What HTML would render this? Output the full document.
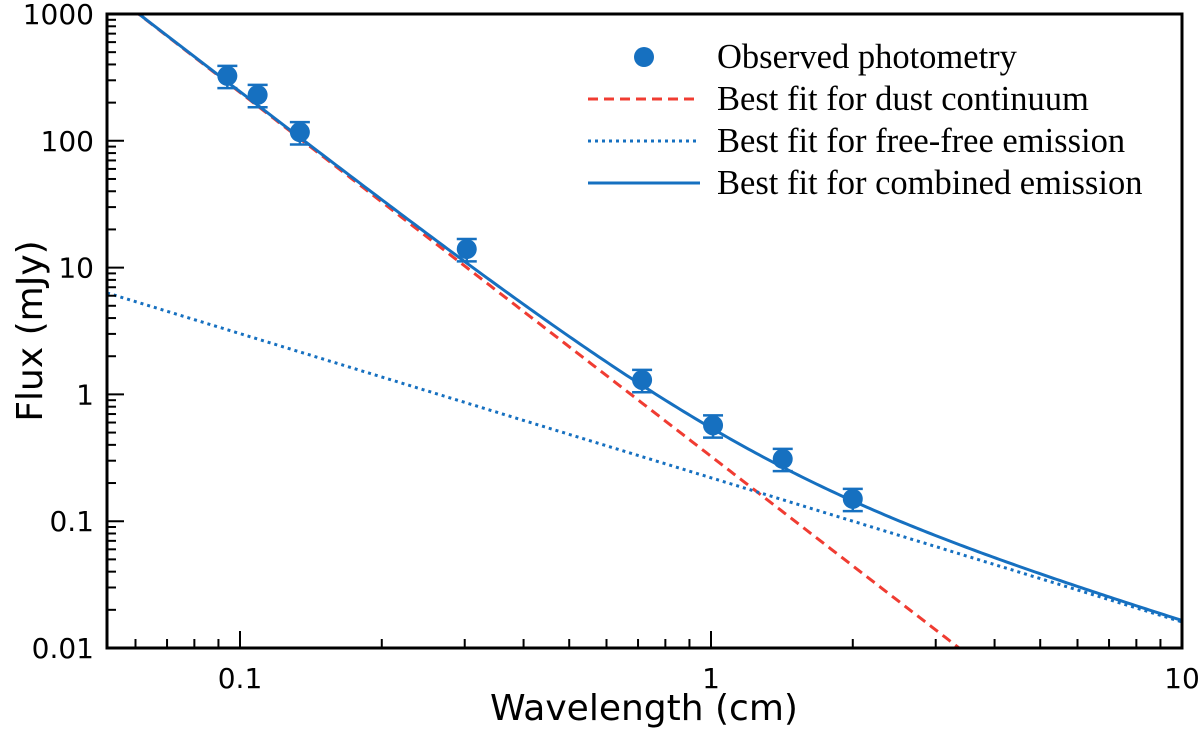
<!DOCTYPE html>
<html><head><meta charset="utf-8"><style>
html,body{margin:0;padding:0;background:#fff;width:1200px;height:736px;overflow:hidden;}
svg{display:block;}
</style></head><body>
<svg id="chart" width="1200" height="736" xmlns="http://www.w3.org/2000/svg"></svg>
<script>
const wavelengths = [0.094, 0.109, 0.134, 0.303, 0.714, 1.01, 1.42, 2.0];
const fluxes = [325, 230, 117, 14, 1.3, 0.57, 0.31, 0.15];
const fluxErrFrac = [0.2, 0.2, 0.2, 0.2, 0.2, 0.2, 0.2, 0.2];
const dustParams = [0.325, -2.87];   // flux at 1 cm, power-law index
const freeParams = [0.22, -1.137];   // flux at 1 cm, power-law index
const xTicks = [0.1, 1, 10];
const xTickLabels = ['0.1', '1', '10'];
const yTicks = [0.01, 0.1, 1, 10, 100, 1000];
const yTickLabels = ['0.01', '0.1', '1', '10', '100', '1000'];

const NS = 'http://www.w3.org/2000/svg';
const svg = document.getElementById('chart');
const L = 107, R = 1182, T = 14, B = 648;
const lxmin = -1 - 133/471, lxmax = 1;
const lymin = -2, lymax = 3;
const X = v => L + (Math.log10(v) - lxmin) / (lxmax - lxmin) * (R - L);
const Y = v => B - (Math.log10(v) - lymin) / (lymax - lymin) * (B - T);
function mk(tag, attrs, parent) {
  const e = document.createElementNS(NS, tag);
  for (const k in attrs) e.setAttribute(k, attrs[k]);
  (parent || svg).appendChild(e);
  return e;
}
const clip = mk('clipPath', {id: 'pc'});
mk('rect', {x: L, y: T, width: R - L, height: B - T}, clip);
const plot = mk('g', {'clip-path': 'url(#pc)'});



function curvePath(fn) {
  let d = '';
  for (let i = 0; i <= 300; i++) {
    const lv = lxmin + (lxmax - lxmin) * i / 300;
    const v = Math.pow(10, lv);
    d += (i ? 'L' : 'M') + X(v).toFixed(2) + ',' + Y(fn(v)).toFixed(2);
  }
  return d;
}
const dust = v => dustParams[0] * Math.pow(v, dustParams[1]);
const free = v => freeParams[0] * Math.pow(v, freeParams[1]);
const c1 = mk('path', {d: curvePath(dust), fill: 'none', stroke: '#f03c32', 'stroke-width': 3, 'stroke-dasharray': '10,6'}, plot);


const c2 = mk('path', {d: curvePath(free), fill: 'none', stroke: '#1670c0', 'stroke-width': 3, 'stroke-dasharray': '3,4'}, plot);


const c3 = mk('path', {d: curvePath(v => dust(v) + free(v)), fill: 'none', stroke: '#1670c0', 'stroke-width': 3}, plot);



wavelengths.forEach((w, i) => {
  const x = X(w), f = fluxes[i];
  const y1 = Y(f * (1 + fluxErrFrac[i])), y2 = Y(f * (1 - fluxErrFrac[i]));
  const g = mk('g', {stroke: '#1670c0', 'stroke-width': 2.5}, plot);
  
  
  mk('line', {x1: x, x2: x, y1: y1, y2: y2}, g);
  mk('line', {x1: x - 10, x2: x + 10, y1: y1, y2: y1}, g);
  mk('line', {x1: x - 10, x2: x + 10, y1: y2, y2: y2}, g);
  mk('circle', {cx: x, cy: Y(f), r: 10, fill: '#1670c0', stroke: 'none'}, g);
});

const fr = mk('rect', {x: L, y: T, width: R - L, height: B - T, fill: 'none', stroke: '#000', 'stroke-width': 3});



const tg = mk('g', {stroke: '#000', 'stroke-width': 2});


for (let d = -2; d <= 1; d++) {
  for (let m = 1; m <= 9; m++) {
    const v = m * Math.pow(10, d);
    const lv = Math.log10(v);
    if (lv < lxmin - 1e-9 || lv > lxmax + 1e-9) continue;
    const len = m === 1 ? 17 : 9;
    mk('line', {x1: X(v), x2: X(v), y1: B, y2: B - len}, tg);
  }
}
for (let d = -2; d <= 3; d++) {
  for (let m = 1; m <= 9; m++) {
    const v = m * Math.pow(10, d);
    const lv = Math.log10(v);
    if (lv < lymin - 1e-9 || lv > lymax + 1e-9) continue;
    const len = m === 1 ? 17 : 9;
    mk('line', {x1: L, x2: L + len, y1: Y(v), y2: Y(v)}, tg);
  }
}
const font = '"DejaVu Sans", "Liberation Sans", sans-serif';
xTicks.forEach((v, i) => {
  const t = mk('text', {x: X(v), y: B + 40, 'text-anchor': 'middle', 'font-family': font, 'font-size': 28});
  t.textContent = xTickLabels[i];
  
  
});
yTicks.forEach((v, i) => {
  const t = mk('text', {x: L - 13, y: Y(v) + 10, 'text-anchor': 'end', 'font-family': font, 'font-size': 28});
  t.textContent = yTickLabels[i];
  
  
});
const xt = mk('text', {x: 644, y: 720, 'text-anchor': 'middle', 'font-family': font, 'font-size': 36});
xt.textContent = 'Wavelength (cm)';


const yt = mk('text', {x: 0, y: 0, 'text-anchor': 'middle', 'font-family': font, 'font-size': 36, transform: 'translate(42,' + (T + B) / 2 + ') rotate(-90)'});
yt.textContent = 'Flux (mJy)';



const lg = mk('g', {});


const items = ['Observed photometry', 'Best fit for dust continuum', 'Best fit for free-free emission', 'Best fit for combined emission'];
const rows = [57, 99, 141, 183];
items.forEach((txt, i) => {
  const y = rows[i];
  const e = mk('g', {}, lg);
  
  
  if (i === 0) mk('circle', {cx: 644, cy: y, r: 10, fill: '#1670c0'}, e);
  else {
    const a = {x1: 588, x2: 700, y1: y, y2: y, 'stroke-width': 3, stroke: i === 1 ? '#f03c32' : '#1670c0'};
    if (i === 1) a['stroke-dasharray'] = '10,6';
    if (i === 2) a['stroke-dasharray'] = '3,4';
    mk('line', a, e);
  }
  const t = mk('text', {x: 717, y: y + 11, 'font-family': '"Liberation Serif", serif', 'font-size': 34.5}, e);
  t.textContent = txt;
});
</script>
</body></html>
